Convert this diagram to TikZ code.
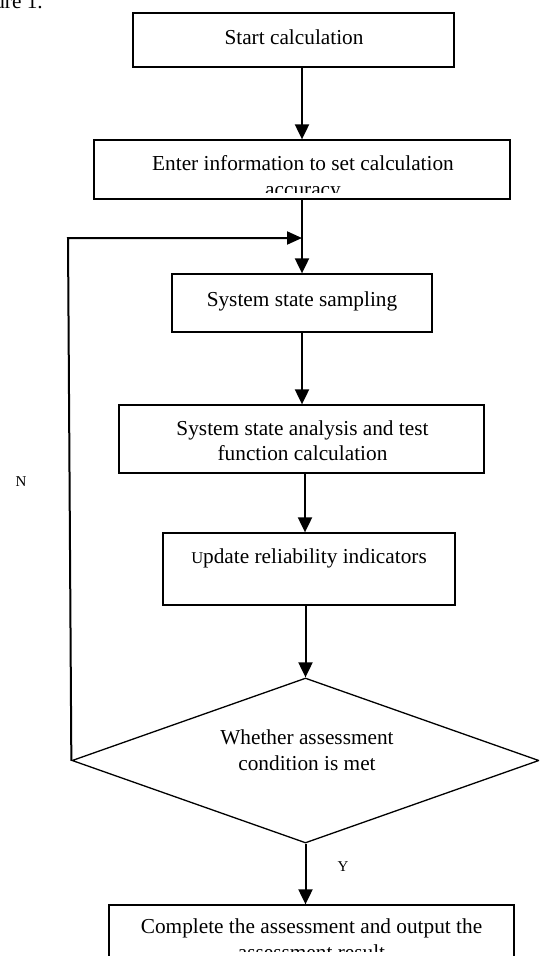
\documentclass[tikz,border=0pt]{standalone}
\usepackage{fontspec}
\setmainfont{Liberation Serif}
\usetikzlibrary{arrows.meta,shapes.geometric}
\begin{document}
\begin{tikzpicture}[x=1pt,y=-1pt,
  box/.style={draw,line width=1.3pt,inner sep=0pt},
  txt/.style={inner sep=0pt,anchor=base,font=\fontsize{21.3}{26}\selectfont},
  lbl/.style={inner sep=0pt,font=\fontsize{15}{18}\selectfont},
  arr/.style={line width=2pt,-{Triangle[length=15pt,width=14pt]}},
  conn/.style={line width=2pt}]
\useasboundingbox (0,0) rectangle (539,956);
\clip (0,0) rectangle (539,956);
\fill[white] (0,0) rectangle (539,956);
% caption remnant
\node[txt,anchor=base east] (fig) at (43,8) {Figure 1.};
% boxes
\node[box,minimum width=321pt,minimum height=54pt] (start) at (293.5,40) {};
\node[txt] (starttxt) at (294,44) {Start calculation};
\node[box,minimum width=416pt,minimum height=59pt] (enter) at (302,169.5) {};
\begin{scope}
\clip (94,140) rectangle (510,192);
\node[txt] (entertxt) at (303,170) {Enter information to set calculation};
\node[txt] (entertxtb) at (303,196) {accuracy};
\end{scope}
\node[box,minimum width=260pt,minimum height=58pt] (samp) at (302,303) {};
\node[txt] (samptxt) at (302,306) {System state sampling};
\node[box,minimum width=365pt,minimum height=68pt] (ana) at (301.5,439) {};
\node[txt] (anatxt) at (302.5,435) {System state analysis and test};
\node[txt] (anatxtb) at (302.5,460) {function calculation};
\node[box,minimum width=292pt,minimum height=72pt] (upd) at (309,569) {};
\node[txt] (updtxt) at (309,563) {{\fontsize{16.5}{20}\selectfont U}pdate reliability indicators};
\node[draw,line width=1.3pt,diamond,inner sep=0pt,minimum width=467pt,minimum height=165pt] (dia) at (305.5,760.5) {};
\node[txt] (diatxt) at (307,744) {Whether assessment};
\node[txt] (diatxtb) at (307,770) {condition is met};
\node[box,minimum width=405pt,minimum height=70pt] (comp) at (311.5,940) {};
\begin{scope}
\clip (109,905) rectangle (514,951);
\node[txt] (comptxt) at (311.5,933) {Complete the assessment and output the};
\node[txt] (comptxtb) at (311.5,959) {assessment result};
\end{scope}
% labels
\node[lbl] (nlbl) at (21,482) {N};
\node[lbl] (ylbl) at (343,867) {Y};
% connectors
\draw[arr] (start.south -| enter.north) -- (enter.north);
\draw[arr] (enter.south) -- (samp.north);
\coordinate (loopc) at (68,238);
\draw[line width=2pt,-{Triangle[length=15pt,width=13pt]}] (dia.west) -- (loopc) -- (loopc -| samp.north);
\draw[arr] (samp.south) -- (samp.south |- ana.north);
\draw[arr] ([xshift=3.5pt]ana.south) -- ([xshift=3.5pt]ana.south |- upd.north);
\draw[arr] (upd.south -| dia.north) -- (dia.north);
\draw[arr] (dia.south) -- (dia.south |- comp.north);
\end{tikzpicture}
\end{document}
